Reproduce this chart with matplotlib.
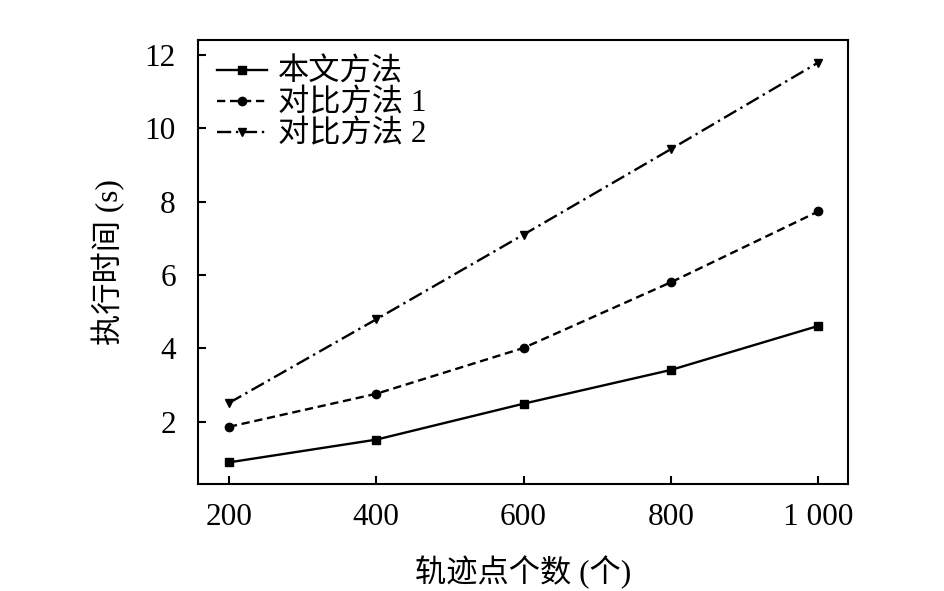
import matplotlib
matplotlib.use("Agg")
import matplotlib.pyplot as plt

plt.rcParams['font.family'] = ['Liberation Serif', 'Noto Sans CJK SC', 'DejaVu Sans']

# 轨迹点个数
points = [200, 400, 600, 800, 1000]
xtick_labels = ['200', '400', '600', '800', '1 000']

ours = [0.89, 1.51, 2.49, 3.41, 4.61]
cmp1 = [1.86, 2.76, 4.01, 5.80, 7.73]
cmp2 = [2.51, 4.79, 7.10, 9.43, 11.79]

fig = plt.figure(figsize=(9.45, 5.91), dpi=100)
ax = fig.add_axes([0.2095, 0.181, 0.6875, 0.751])

ax.plot(points, ours, color='black', linestyle='-', linewidth=1.7,
        marker='s', markersize=6, label='本文方法')
ax.plot(points, cmp1, color='black', linestyle=(0, (3.5, 2)), linewidth=1.7,
        marker='o', markersize=6, label='对比方法 1')
ax.plot(points, cmp2, color='black', linestyle=(0, (6, 2, 1, 2)), linewidth=1.7,
        marker='v', markersize=6, label='对比方法 2')

ax.set_xlim(158, 1040)
ax.set_ylim(0.3, 12.4)
ax.set_xticks(points)
ax.set_xticklabels(xtick_labels)
ax.set_yticks([2, 4, 6, 8, 10, 12])

ax.tick_params(direction='in', length=5.5, width=1.5, labelsize=22.5,
               top=False, right=False)
ax.tick_params(axis='x', pad=14)
ax.tick_params(axis='y', pad=16)
for s in ax.spines.values():
    s.set_linewidth(1.5)

ax.set_xlabel('轨迹点个数 (个)', fontsize=22.5, labelpad=17)
ax.set_ylabel('执行时间 (s)', fontsize=22.5, labelpad=14)

ax.legend(loc='upper left', frameon=False, fontsize=22.5, handlelength=1.6,
          labelspacing=0.05, handletextpad=0.35, borderaxespad=0.2,
          borderpad=0.4)

fig.savefig('out.png', dpi=100)
